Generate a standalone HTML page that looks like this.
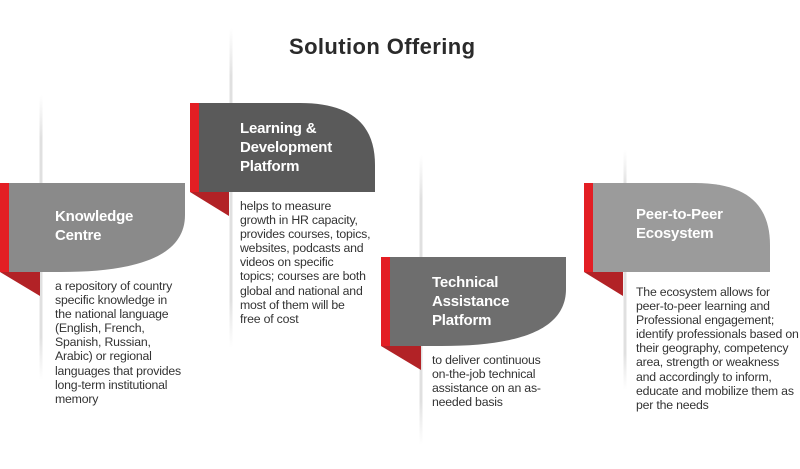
<!DOCTYPE html>
<html><head><meta charset="utf-8"><style>
body{margin:0;width:800px;height:469px;background:#fff;position:relative;overflow:hidden;font-family:"Liberation Sans",sans-serif}
.t{position:absolute;color:#fff;font-weight:bold;font-size:15px;line-height:19px;white-space:nowrap;letter-spacing:-0.2px}
.b{position:absolute;color:#333;font-size:12.3px;line-height:14.1px;white-space:nowrap;letter-spacing:-0.2px}
h1{position:absolute;margin:0;left:289px;top:34px;font-size:22px;font-weight:bold;color:#2a2a2a;letter-spacing:0.4px}
</style></head><body>
<svg width="800" height="469" style="position:absolute;left:0;top:0">
<defs><linearGradient id="g" x1="0" y1="0" x2="0" y2="1"><stop offset="0" stop-color="#e6e6e6" stop-opacity="0"/><stop offset="0.15" stop-color="#e0e0e0"/><stop offset="0.85" stop-color="#e0e0e0"/><stop offset="1" stop-color="#e6e6e6" stop-opacity="0"/></linearGradient></defs>
<rect x="39.5" y="95" width="3" height="285" fill="url(#g)"/>
<rect x="229.5" y="28" width="3" height="320" fill="url(#g)"/>
<rect x="419.5" y="155" width="3" height="290" fill="url(#g)"/>
<rect x="623.5" y="150" width="3" height="240" fill="url(#g)"/>
<path d="M0,272 H40 V296 Z" fill="#b22226"/>
<rect x="0" y="183" width="9" height="89" fill="#e31e24"/>
<path d="M9,183 H185 V215 C185,255 140,272 60,272 H9 Z" fill="#8a8a8a"/>
<path d="M190,192 H229 V216 Z" fill="#b22226"/>
<rect x="190" y="103" width="9" height="89" fill="#e31e24"/>
<path d="M199,103 H300 C352,103 375,125 375,165 V192 H199 Z" fill="#5a5a5a"/>
<path d="M381,346 H421 V370 Z" fill="#b22226"/>
<rect x="381" y="257" width="9" height="89" fill="#e31e24"/>
<path d="M390,257 H566 V289 C566,329 521,346 441,346 H390 Z" fill="#6e6e6e"/>
<path d="M584,272 H623 V296 Z" fill="#b22226"/>
<rect x="584" y="183" width="9" height="89" fill="#e31e24"/>
<path d="M593,183 H695 C747,183 770,205 770,245 V272 H593 Z" fill="#9b9b9b"/>
</svg>
<h1>Solution Offering</h1>
<div class="t" style="left:55px;top:207px">Knowledge<br>Centre</div>
<div class="t" style="left:240px;top:119px">Learning &amp;<br>Development<br>Platform</div>
<div class="t" style="left:432px;top:273px">Technical<br>Assistance<br>Platform</div>
<div class="t" style="left:636px;top:205px">Peer-to-Peer<br>Ecosystem</div>
<div class="b" style="left:55px;top:279px">a repository of country<br>specific knowledge in<br>the national language<br>(English, French,<br>Spanish, Russian,<br>Arabic) or regional<br>languages that provides<br>long-term institutional<br>memory</div>
<div class="b" style="left:240px;top:199px">helps to measure<br>growth in HR capacity,<br>provides courses, topics,<br>websites, podcasts and<br>videos on specific<br>topics; courses are both<br>global and national and<br>most of them will be<br>free of cost</div>
<div class="b" style="left:432px;top:353px">to deliver continuous<br>on-the-job technical<br>assistance on an as-<br>needed basis</div>
<div class="b" style="left:636px;top:285px">The ecosystem allows for<br>peer-to-peer learning and<br>Professional engagement;<br>identify professionals based on<br>their geography, competency<br>area, strength or weakness<br>and accordingly to inform,<br>educate and mobilize them as<br>per the needs</div>
</body></html>
